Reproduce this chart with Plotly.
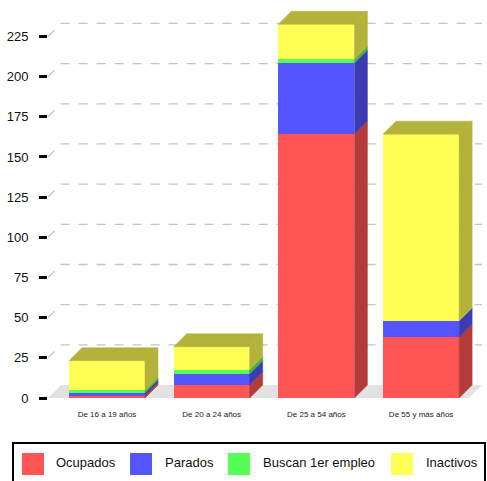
import plotly.graph_objects as go

# ---- data ----
categories = ["De 16 a 19 años", "De 20 a 24 años", "De 25 a 54 años", "De 55 y más años"]
series_names = ["Ocupados", "Parados", "Buscan 1er empleo", "Inactivos"]
ocupados = [1.5, 8.3, 164.4, 37.9]
parados = [1.7, 6.8, 44.1, 10.0]
buscan = [1.5, 2.5, 2.3, 0.0]
inactivos = [18.5, 14.3, 21.8, 116.3]
y_ticks = [0, 25, 50, 75, 100, 125, 150, 175, 200, 225]

# ---- styles ----
front_colors = ["#ff5555", "#5555ff", "#55ff55", "#ffff55"]
side_colors = ["#b33b3b", "#3b3bb3", "#3bb33b", "#b3b33b"]
FONT = "Liberation Sans, Arial, sans-serif"

# geometry (pixels -> data units)
W, H = 487, 481
ML, MR, MT, MB = 48, 5, 10, 83
px_per_unit_y = 1.607
px_per_cat = 104.7
plot_w = W - ML - MR
plot_h = H - MT - MB
x_lo = -(107 - ML) / px_per_cat
x_hi = x_lo + plot_w / px_per_cat
y_hi = plot_h / px_per_unit_y
depth_px = 13
dxc = depth_px / px_per_cat
dyv = depth_px / px_per_unit_y
bar_w = 0.726

xs = list(range(len(categories)))
values = [ocupados, parados, buscan, inactivos]

fig = go.Figure()

# front faces
for name, vals, col in zip(series_names, values, front_colors):
    fig.add_trace(go.Bar(x=xs, y=vals, name=name, width=bar_w,
                         marker=dict(color=col, line=dict(width=0)),
                         showlegend=False, hoverinfo="skip"))

# side and top faces
for i, c in enumerate(xs):
    base = 0.0
    xr = c + bar_w / 2
    xl = c - bar_w / 2
    top_color = side_colors[0]
    for s, vals in enumerate(values):
        v = vals[i]
        if v > 0:
            y0, y1 = base, base + v
            fig.add_trace(go.Scatter(
                x=[xr, xr + dxc, xr + dxc, xr, xr],
                y=[y0, y0 + dyv, y1 + dyv, y1, y0],
                fill="toself", fillcolor=side_colors[s], mode="lines",
                line=dict(width=0.5, color=side_colors[s]),
                showlegend=False, hoverinfo="skip"))
            top_color = side_colors[s]
            base = y1
    fig.add_trace(go.Scatter(
        x=[xl, xl + dxc, xr + dxc, xr, xl],
        y=[base, base + dyv, base + dyv, base, base],
        fill="toself", fillcolor=top_color, mode="lines",
        line=dict(width=0.5, color=top_color),
        showlegend=False, hoverinfo="skip"))

shapes = []
# gridlines on back wall (the zero line is hidden by the floor)
for v in y_ticks:
    if v == 0:
        continue
    shapes.append(dict(type="path", xref="x", yref="y", layer="below",
                       path=f"M {x_lo},{v} L {x_lo + dxc},{v + dyv} L {x_hi},{v + dyv}",
                       line=dict(color="#c4c4c4", width=1.3, dash="dash")))
# floor
x_front_end = x_hi - dxc
shapes.append(dict(type="path", xref="x", yref="y", layer="below",
                   path=f"M {x_lo},0 L {x_front_end},0 L {x_hi},{dyv} L {x_lo + dxc},{dyv} Z",
                   fillcolor="#e2e2e2", line=dict(width=0)))

# manual legend (paper coords)
def px_x(p):
    return (p - ML) / plot_w

def px_y(p):
    return (H - MB - p) / plot_h

shapes.append(dict(type="rect", xref="paper", yref="paper",
                   x0=px_x(13), x1=px_x(485), y0=px_y(492), y1=px_y(443),
                   line=dict(color="black", width=2), fillcolor="white"))
sq_x = [22, 130, 228, 391]
txt_x = [54, 163, 261, 424]
annotations = []
for name, col, sx, tx in zip(series_names, front_colors, sq_x, txt_x):
    shapes.append(dict(type="rect", xref="paper", yref="paper",
                       x0=px_x(sx), x1=px_x(sx + 22), y0=px_y(475), y1=px_y(453),
                       line=dict(width=0), fillcolor=col))
    annotations.append(dict(xref="paper", yref="paper", x=px_x(tx), y=px_y(462),
                            text=name, showarrow=False, xanchor="left", yanchor="middle",
                            font=dict(family=FONT, size=13, color="#111")))

fig.update_layout(
    width=W, height=H,
    margin=dict(l=ML, r=MR, t=MT, b=MB, pad=0),
    barmode="stack",
    paper_bgcolor="white", plot_bgcolor="white",
    shapes=shapes, annotations=annotations,
    showlegend=False,
    font=dict(family=FONT),
    xaxis=dict(range=[x_lo, x_hi], tickvals=xs, ticktext=categories,
               showgrid=False, zeroline=False, showline=False,
               ticks="outside", ticklen=8, tickcolor="rgba(0,0,0,0)",
               tickfont=dict(size=8, color="#222", family=FONT), fixedrange=True),
    yaxis=dict(range=[0, y_hi], tickvals=y_ticks,
               showgrid=False, zeroline=False, showline=False,
               ticks="outside", ticklen=8, tickwidth=3, tickcolor="black",
               ticklabelstandoff=8,
               tickfont=dict(size=13, color="#111", family=FONT), fixedrange=True),
)

fig.write_html("out.html", config={"displayModeBar": False},
               post_script="document.body.style.margin='0';document.body.style.overflow='hidden';")
